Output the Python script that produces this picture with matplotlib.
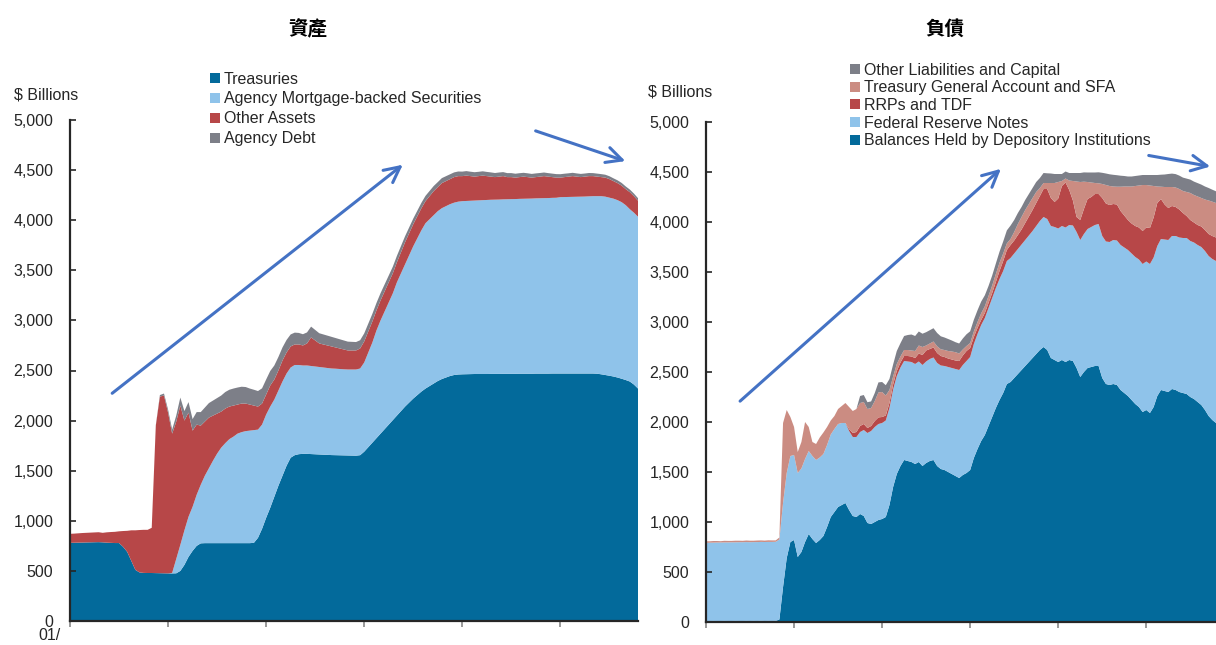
import numpy as np
import matplotlib
matplotlib.use("Agg")
import matplotlib.pyplot as plt
from matplotlib.patches import Patch

plt.rcParams['font.family'] = ['Liberation Sans', 'DejaVu Sans']

# ---------------- data (monthly, Jan 2007 - Aug 2018, $ billions) ----------------
start_year = 2007
n_months = 140

# Assets
treasuries = (
    [780, 781, 782, 783, 784, 785, 786, 787, 785, 782, 780, 778] +
    [778, 740, 690, 600, 510, 485, 480, 479, 479, 478, 477, 476] +
    [475, 475, 476, 500, 560, 640, 700, 750, 775, 777, 777, 777] +
    [777, 777, 777, 777, 777, 777, 777, 777, 777, 780, 830, 920] +
    [1030, 1130, 1240, 1350, 1450, 1550, 1630, 1655, 1665, 1668, 1668, 1666] +
    [1664, 1662, 1660, 1658, 1656, 1655, 1654, 1653, 1652, 1651, 1650, 1655] +
    [1690, 1735, 1780, 1825, 1870, 1915, 1960, 2005, 2050, 2095, 2140, 2180] +
    [2220, 2255, 2290, 2320, 2345, 2370, 2395, 2415, 2430, 2445, 2455, 2460] +
    [2462, 2463, 2464, 2465, 2465, 2465, 2465, 2466, 2466, 2466, 2467, 2467] +
    [2467, 2467, 2468, 2468, 2468, 2468, 2469, 2469, 2469, 2469, 2470, 2470] +
    [2470, 2470, 2470, 2470, 2470, 2470, 2470, 2470, 2470, 2468, 2462, 2455] +
    [2448, 2440, 2430, 2418, 2405, 2390, 2360, 2320]
)
agency_mbs = (
    [0] * 12 +
    [0] * 12 +
    [0, 5, 144, 260, 345, 400, 440, 510, 585, 673, 748, 823] +
    [893, 953, 998, 1038, 1063, 1093, 1108, 1118, 1123, 1125, 1080, 1040] +
    [1030, 1010, 970, 950, 940, 920, 900, 900, 890, 882, 882, 879] +
    [876, 873, 870, 867, 864, 863, 861, 859, 858, 859, 860, 865] +
    [890, 945, 1000, 1075, 1130, 1175, 1220, 1265, 1330, 1375, 1420, 1470] +
    [1520, 1565, 1610, 1650, 1665, 1680, 1695, 1705, 1710, 1715, 1720, 1725] +
    [1728, 1729, 1730, 1731, 1733, 1735, 1737, 1738, 1739, 1740, 1741, 1742] +
    [1743, 1744, 1745, 1746, 1747, 1748, 1749, 1750, 1751, 1752, 1753, 1754] +
    [1760, 1761, 1762, 1763, 1764, 1765, 1766, 1768, 1770, 1772, 1778, 1780] +
    [1777, 1775, 1770, 1762, 1745, 1720, 1715, 1715]
)
other_assets = (
    [90, 91, 93, 95, 96, 97, 98, 99, 95, 103, 108, 112] +
    [117, 158, 210, 305, 395, 423, 430, 431, 451, 1472, 1763, 1774] +
    [1605, 1390, 1370, 1390, 1095, 1040, 760, 700, 590, 540, 505, 450] +
    [400, 360, 345, 325, 310, 290, 285, 275, 260, 245, 230, 210] +
    [200, 210, 200, 200, 210, 210, 210, 205, 205, 200, 220, 285] +
    [260, 235, 230, 225, 220, 212, 205, 198, 190, 190, 190, 200] +
    [210, 210, 210, 200, 200, 200, 200, 200, 200, 210, 220, 220] +
    [220, 220, 220, 220, 230, 240, 240, 250, 250, 250, 255, 255] +
    [250, 253, 246, 239, 242, 245, 238, 231, 225, 229, 232, 221] +
    [220, 214, 217, 221, 215, 209, 212, 216, 220, 214, 207, 201] +
    [195, 199, 203, 207, 201, 195, 199, 202, 200, 195, 190, 190] +
    [185, 175, 170, 165, 160, 170, 165, 160]
)
agency_debt = (
    [0] * 12 +
    [0, 0, 0, 0, 0, 0, 0, 0, 0, 5, 15, 20] +
    [30, 40, 60, 80, 95, 105, 115, 125, 135, 140, 145, 150] +
    [155, 160, 165, 168, 170, 170, 168, 165, 160, 158, 155, 152] +
    [150, 145, 140, 135, 130, 125, 120, 118, 115, 112, 110, 108] +
    [105, 102, 100, 98, 96, 94, 92, 90, 88, 86, 84, 82] +
    [80, 78, 76, 74, 72, 70, 68, 66, 64, 62, 60, 58] +
    [56, 55, 54, 53, 52, 51, 50, 50, 49, 48, 47, 46] +
    [45, 45, 44, 44, 43, 43, 42, 42, 41, 41, 40, 40] +
    [40, 39, 39, 38, 38, 37, 37, 36, 36, 35, 35, 35] +
    [34, 34, 33, 33, 32, 32, 31, 31, 30, 30, 30, 29] +
    [29, 28, 28, 27, 27, 26, 26, 25]
)

# Liabilities
reserve_balances = (
    [10, 10, 11, 10, 10, 11, 10, 10, 11, 10, 10, 11] +
    [10, 11, 10, 12, 10, 11, 10, 11, 25, 350, 640, 800] +
    [820, 650, 700, 800, 880, 830, 790, 820, 860, 950, 1050, 1100] +
    [1150, 1170, 1190, 1120, 1060, 1050, 1080, 1060, 990, 980, 1000, 1020] +
    [1030, 1050, 1170, 1350, 1480, 1560, 1620, 1610, 1600, 1580, 1600, 1560] +
    [1590, 1610, 1620, 1560, 1530, 1520, 1500, 1480, 1460, 1440, 1470, 1490] +
    [1520, 1640, 1730, 1810, 1870, 1960, 2050, 2140, 2220, 2290, 2380, 2400] +
    [2440, 2480, 2520, 2560, 2600, 2640, 2680, 2720, 2750, 2720, 2640, 2620] +
    [2600, 2620, 2600, 2620, 2610, 2540, 2450, 2500, 2540, 2550, 2560, 2560] +
    [2440, 2380, 2370, 2380, 2370, 2320, 2290, 2260, 2220, 2180, 2150, 2100] +
    [2120, 2090, 2150, 2260, 2320, 2310, 2300, 2330, 2320, 2300, 2290, 2280] +
    [2250, 2230, 2200, 2170, 2120, 2060, 2020, 1990]
)
fr_notes = (
    [782, 783, 783, 785, 785, 785, 786, 787, 786, 788, 788, 788] +
    [788, 788, 789, 789, 790, 790, 791, 791, 800, 840, 850, 860] +
    [850, 840, 835, 830, 830, 830, 830, 825, 820, 820, 825, 830] +
    [830, 820, 800, 790, 790, 800, 820, 860, 900, 930, 950, 960] +
    [960, 965, 970, 975, 980, 985, 990, 995, 1000, 1000, 1005, 1010] +
    [1015, 1020, 1025, 1030, 1035, 1040, 1050, 1060, 1070, 1080, 1100, 1120] +
    [1130, 1140, 1150, 1160, 1170, 1180, 1190, 1200, 1210, 1220, 1230, 1240] +
    [1245, 1250, 1255, 1260, 1265, 1270, 1280, 1290, 1300, 1310, 1320, 1330] +
    [1335, 1340, 1345, 1350, 1355, 1360, 1370, 1380, 1390, 1400, 1410, 1420] +
    [1420, 1425, 1430, 1440, 1445, 1450, 1455, 1460, 1465, 1470, 1475, 1480] +
    [1485, 1490, 1495, 1500, 1510, 1515, 1520, 1530, 1540, 1545, 1550, 1560] +
    [1560, 1565, 1570, 1580, 1590, 1600, 1610, 1620]
)
rrp_tdf = (
    [0] * 12 +
    [0] * 12 +
    [0] * 12 +
    [0, 0, 0, 20, 40, 50, 60, 60, 50, 50, 60, 66] +
    [60, 50, 50, 50, 50, 50, 50, 55, 55, 60, 80, 100] +
    [110, 100, 100, 100, 95, 90, 85, 85, 85, 90, 95, 100] +
    [90, 70, 60, 50, 50, 50, 50, 60, 80, 100, 110, 130] +
    [130, 140, 150, 170, 190, 210, 230, 250, 280, 300, 280, 250] +
    [300, 400, 450, 350, 250, 150, 200, 250, 300, 300, 310, 300] +
    [380, 380, 370, 360, 360, 340, 320, 300, 300, 310, 320, 330] +
    [340, 360, 400, 430, 400, 350, 320, 300, 290, 280, 250, 220] +
    [210, 200, 200, 205, 210, 220, 230, 235]
)
tga_sfa = (
    [15, 14, 16, 15, 13, 16, 15, 14, 16, 15, 14, 16] +
    [15, 14, 16, 15, 14, 16, 15, 14, 20, 800, 630, 390] +
    [280, 210, 265, 370, 240, 140, 160, 200, 215, 180, 140, 130] +
    [150, 170, 200, 220, 220, 230, 230, 220, 190, 180, 200, 250] +
    [250, 200, 130, 80, 70, 60, 60, 60, 60, 70, 80, 80] +
    [50, 55, 60, 67, 67, 70, 75, 80, 83, 75, 60, 50] +
    [50, 55, 60, 67, 67, 70, 75, 80, 83, 75, 66, 60] +
    [85, 110, 125, 130, 125, 120, 110, 80, 60, 60, 150, 190] +
    [165, 50, 40, 95, 195, 355, 380, 273, 170, 145, 110, 107] +
    [140, 185, 190, 175, 178, 243, 290, 335, 370, 400, 420, 460] +
    [425, 425, 315, 165, 123, 175, 210, 190, 195, 205, 220, 240] +
    [270, 275, 285, 285, 305, 335, 343, 345]
)
other_liab_capital = (
    [0] * 12 +
    [0] * 12 +
    [0] * 12 +
    [0, 0, 0, 0, 0, 0, 70, 70, 68, 66, 80, 100] +
    [100, 103, 110, 120, 130, 133, 140, 150, 160, 150, 140, 133] +
    [133, 133, 133, 133, 130, 125, 120, 110, 100, 100, 110, 117] +
    [117, 117, 117, 117, 110, 100, 100, 105, 110, 120, 130, 134] +
    [120, 110, 100, 100, 100, 100, 100, 100, 100, 97, 95, 90] +
    [80, 70, 70, 75, 80, 85, 90, 93, 95, 100, 105, 110] +
    [112, 115, 117, 117, 115, 110, 105, 100, 100, 100, 100, 100] +
    [100, 105, 110, 115, 120, 125, 130, 134, 134, 134, 134, 134] +
    [134, 134, 134, 134, 130, 125, 120, 117]
)

asset_labels = ["Treasuries", "Agency Mortgage-backed Securities",
                "Other Assets", "Agency Debt"]
liab_labels = ["Balances Held by Depository Institutions", "Federal Reserve Notes",
               "RRPs and TDF", "Treasury General Account and SFA",
               "Other Liabilities and Capital"]
y_ticks = [0, 500, 1000, 1500, 2000, 2500, 3000, 3500, 4000, 4500, 5000]
y_tick_labels = ["0", "500", "1,000", "1,500", "2,000", "2,500", "3,000",
                 "3,500", "4,000", "4,500", "5,000"]
x_tick_years = [2007, 2009, 2011, 2013, 2015, 2017]

# ---------------- styling ----------------
C_DARK = "#036A9B"
C_LIGHT = "#8FC3EA"
C_RED = "#B74748"
C_GREY = "#7D7F88"
C_PINK = "#CB8C82"
TXT = "#262626"
FS = 11.5

x = start_year + np.arange(n_months) / 12.0

W, H = 1216, 645
fig = plt.figure(figsize=(W / 100, H / 100), dpi=100)


def fx(px):
    return px / W


def fy(py):
    return (H - py) / H


axL = fig.add_axes([fx(70), fy(621), (638 - 70) / W, (621 - 120) / H])
axR = fig.add_axes([fx(706), fy(622), (1216 - 706) / W, (622 - 122) / H])

axL.stackplot(x, treasuries, agency_mbs, other_assets, agency_debt,
              colors=[C_DARK, C_LIGHT, C_RED, C_GREY], linewidth=0)
axR.stackplot(x, reserve_balances, fr_notes, rrp_tdf, tga_sfa, other_liab_capital,
              colors=[C_DARK, C_LIGHT, C_RED, C_PINK, C_GREY], linewidth=0)

for ax in (axL, axR):
    ax.set_xlim(x[0], x[-1])
    ax.set_ylim(0, 5000)
    ax.set_yticks(y_ticks)
    ax.set_yticklabels(y_tick_labels)
    ax.set_xticks(x_tick_years)
    ax.set_xticklabels([])
    ax.tick_params(axis='y', direction='in', length=4, width=1.2, color=TXT,
                   labelsize=FS, labelcolor=TXT, pad=12)
    ax.tick_params(axis='x', direction='out', length=4, width=1.2, color="#888888")
    for s in ("top", "right"):
        ax.spines[s].set_visible(False)
    for s in ("left", "bottom"):
        ax.spines[s].set_color(TXT)
        ax.spines[s].set_linewidth(1.6)
    ax.set_facecolor("white")

# legends
hL = [Patch(facecolor=c, edgecolor='none') for c in [C_DARK, C_LIGHT, C_RED, C_GREY]]
legL = fig.legend(hL, asset_labels, loc='upper left',
                  bbox_to_anchor=(fx(210), fy(71.5)), frameon=False, fontsize=FS,
                  handlelength=0.6, handleheight=0.6, handletextpad=0.25,
                  labelspacing=0.31, borderpad=0, borderaxespad=0)
for t in legL.get_texts():
    t.set_color(TXT)

order_R = [4, 3, 2, 1, 0]
cR = [C_DARK, C_LIGHT, C_RED, C_PINK, C_GREY]
hR = [Patch(facecolor=cR[i], edgecolor='none') for i in order_R]
legR = fig.legend(hR, [liab_labels[i] for i in order_R], loc='upper left',
                  bbox_to_anchor=(fx(850), fy(62.5)), frameon=False, fontsize=FS,
                  handlelength=0.6, handleheight=0.6, handletextpad=0.25,
                  labelspacing=0.17, borderpad=0, borderaxespad=0)
for t in legR.get_texts():
    t.set_color(TXT)

# titles and unit labels
cjk = ['Noto Sans CJK TC', 'DejaVu Sans']
fig.text(fx(308), fy(29), "資產", ha='center', va='center', fontsize=14,
         fontweight='bold', family=cjk, color='black')
fig.text(fx(945), fy(29), "負債", ha='center', va='center', fontsize=14,
         fontweight='bold', family=cjk, color='black')
fig.text(fx(14), fy(95), "$ Billions", ha='left', va='center', fontsize=FS, color=TXT)
fig.text(fx(648), fy(92), "$ Billions", ha='left', va='center', fontsize=FS, color=TXT)
fig.text(fx(38), fy(636), "01/", ha='left', va='center', fontsize=FS, color=TXT)

# arrows
ARROW = "#4472C4"
for (x0, y0, x1, y1) in [(110, 395, 405, 163), (533, 130, 628, 162),
                         (738, 403, 1003, 167), (1146, 155, 1213, 167)]:
    fig.add_artist(matplotlib.patches.FancyArrowPatch(
        (fx(x0), fy(y0)), (fx(x1), fy(y1)), transform=fig.transFigure,
        arrowstyle='->', mutation_scale=28, lw=2.2, color=ARROW))

fig.savefig("out.png", dpi=100)
